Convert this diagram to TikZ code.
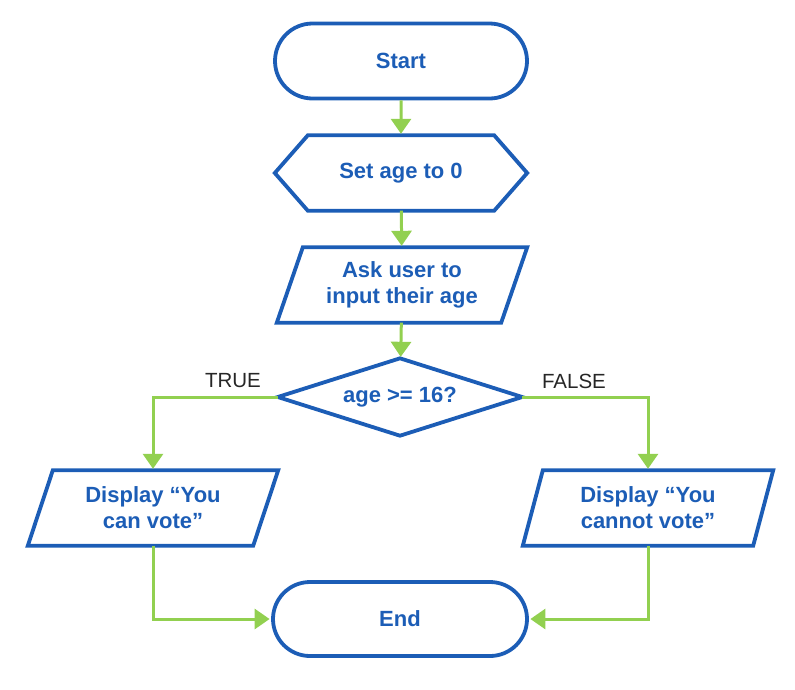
\documentclass[tikz,border=0pt]{standalone}
\usepackage{fontspec}
\setmainfont{Liberation Sans}
\usetikzlibrary{shapes.misc,arrows.meta,calc}
\definecolor{fcblue}{HTML}{1C5DB6}
\definecolor{fcgreen}{HTML}{92D050}
\begin{document}
\begin{tikzpicture}[x=1pt,y=-1pt,
  outline/.style={draw=fcblue,line width=3.8pt,line join=miter},
  lbl/.style={text=fcblue,font=\bfseries\fontsize{22}{26}\selectfont,align=center,inner sep=0pt},
  term/.style={lbl,outline,rounded rectangle,minimum width=252pt,minimum height=75pt},
  box/.style={lbl,minimum width=#1,minimum height=75pt},
  flow/.style={draw=fcgreen,line width=3pt,-{Triangle[width=20pt,length=15pt]},shorten >=1.5pt},
  branch/.style={font=\fontsize{20.5}{24}\selectfont,text=black!85,inner sep=0pt}]
\useasboundingbox (0,0) rectangle (795,689);
% nodes
\node[term] (start) at (401,61) {Start};
\node[box=252pt] (set) at (401,173) {Set age to 0};
\draw[outline] (set.west) -- ($(set.north west)+(33,0)$) -- ($(set.north east)-(33,0)$)
  -- (set.east) -- ($(set.south east)-(33,0)$) -- ($(set.south west)+(33,0)$) -- cycle;
\node[box=250pt] (ask) at (402,285) {Ask user to\\input their age};
\draw[outline] ($(ask.north west)+(26,0)$) -- (ask.north east) -- ($(ask.south east)-(26,0)$) -- (ask.south west) -- cycle;
\node[box=244pt,minimum height=77pt] (dec) at (400,397) {age >= 16?};
\draw[outline] (dec.north) -- (dec.east) -- (dec.south) -- (dec.west) -- cycle;
\node[box=250pt] (yes) at (153,508) {Display “You\\can vote”};
\draw[outline] ($(yes.north west)+(25,0)$) -- (yes.north east) -- ($(yes.south east)-(25,0)$) -- (yes.south west) -- cycle;
\node[box=250pt] (no) at (648,508) {Display “You\\cannot vote”};
\draw[outline] ($(no.north west)+(20,0)$) -- (no.north east) -- ($(no.south east)-(20,0)$) -- (no.south west) -- cycle;
\node[term,minimum width=254pt,minimum height=74pt] (end) at (400,619) {End};
\node[branch] (t) at (233,381) {TRUE};
\node[branch] (f) at (574,381) {FALSE};
% connectors
\draw[flow] (start) -- (set);
\draw[flow] (set) -- (ask);
\draw[flow] (ask) -- (dec);
\draw[flow] (dec.west) -| (yes.north);
\draw[flow] (dec.east) -| (no.north);
\draw[flow] (yes.south) |- (end.west);
\draw[flow] (no.south) |- (end.east);
\end{tikzpicture}
\end{document}
